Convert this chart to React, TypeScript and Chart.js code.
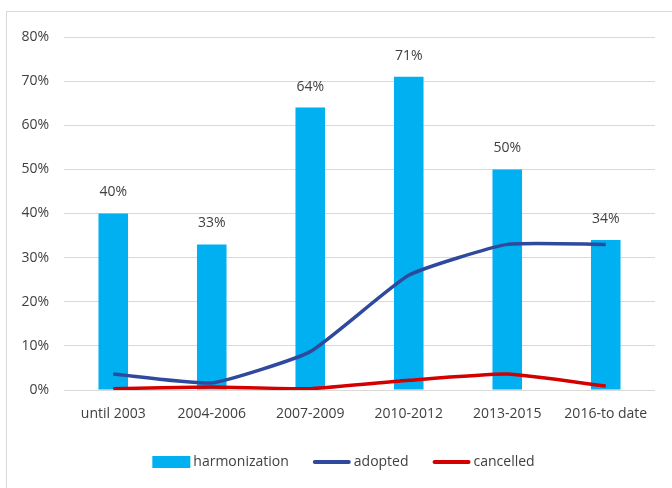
import React, { useEffect, useRef } from "react";
import { Chart, registerables } from "chart.js";

Chart.register(...registerables);

const periods = ["until 2003", "2004-2006", "2007-2009", "2010-2012", "2013-2015", "2016-to date"];
const harmonization = [40, 33, 64, 71, 50, 34];
const adopted = [3.6, 1.6, 8.7, 26, 33, 33];
const cancelled = [0.3, 0.7, 0.3, 2.2, 3.6, 0.9];
const yTicks = [0, 10, 20, 30, 40, 50, 60, 70, 80];

const FONT = "'Open Sans', 'Noto Sans', sans-serif";
const TEXT = "#404040";

// Value labels above each harmonization bar
const barLabels = {
  id: "barLabels",
  afterDatasetsDraw(chart: any) {
    const meta = chart.getDatasetMeta(0);
    const ctx = chart.ctx;
    ctx.save();
    ctx.font = `14px ${FONT}`;
    ctx.fillStyle = TEXT;
    ctx.textAlign = "center";
    ctx.textBaseline = "middle";
    meta.data.forEach((bar: any, i: number) => {
      ctx.fillText(`${harmonization[i]}%`, bar.x, bar.y - 21);
    });
    ctx.restore();
  },
};

// Compact legend row under the axis: marker directly followed by its label
const compactLegend = {
  id: "compactLegend",
  afterDraw(chart: any) {
    const ctx = chart.ctx;
    const markerW = 38;
    const gap = 3;
    const spacing = 24;
    ctx.save();
    ctx.font = `14px ${FONT}`;
    const items = chart.data.datasets.map((ds: any) => ({
      ds,
      w: markerW + gap + ctx.measureText(ds.label).width,
    }));
    const total = items.reduce((s: number, it: any) => s + it.w, 0) + spacing * (items.length - 1);
    const cx = (chart.chartArea.left + chart.chartArea.right) / 2 - 16;
    let x = cx - total / 2;
    const y = chart.chartArea.bottom + 72;
    ctx.textBaseline = "middle";
    ctx.textAlign = "left";
    items.forEach((it: any) => {
      const ds = it.ds;
      if (ds.type === "line") {
        ctx.strokeStyle = ds.borderColor;
        ctx.lineWidth = 4;
        ctx.lineCap = "round";
        ctx.beginPath();
        ctx.moveTo(x + 2, y);
        ctx.lineTo(x + markerW - 2, y);
        ctx.stroke();
      } else {
        ctx.fillStyle = ds.backgroundColor;
        ctx.fillRect(x, y - 6, markerW, 12);
      }
      ctx.fillStyle = TEXT;
      ctx.fillText(ds.label, x + markerW + gap, y);
      x += it.w + spacing;
    });
    ctx.restore();
  },
};

export default function App() {
  const ref = useRef<HTMLCanvasElement>(null);

  useEffect(() => {
    document.body.style.margin = "0";
    const chart = new Chart(ref.current!, {
      type: "bar",
      data: {
        labels: periods,
        datasets: [
          {
            type: "bar",
            label: "harmonization",
            data: harmonization,
            backgroundColor: "#00b0f0",
            categoryPercentage: 1,
            barPercentage: 0.3,
            order: 2,
          },
          {
            type: "line",
            label: "adopted",
            data: adopted,
            borderColor: "#2f4a9c",
            backgroundColor: "#2f4a9c",
            borderWidth: 3.5,
            pointRadius: 0,
            tension: 0.15,
            order: 1,
          },
          {
            type: "line",
            label: "cancelled",
            data: cancelled,
            borderColor: "#d40000",
            backgroundColor: "#d40000",
            borderWidth: 3.5,
            pointRadius: 0,
            tension: 0.15,
            order: 0,
          },
        ] as any,
      },
      options: {
        responsive: false,
        animation: false,
        layout: { padding: { top: 37, right: 17, bottom: 48, left: 0 } },
        plugins: {
          tooltip: { enabled: false },
          legend: { display: false },
        },
        scales: {
          x: {
            afterFit(scale: any) {
              scale.height = 50;
            },
            grid: { display: false },
            border: { display: false },
            ticks: { color: TEXT, font: { family: FONT, size: 14 }, padding: 8 },
          },
          y: {
            min: 0,
            max: 80,
            afterFit(scale: any) {
              scale.width = 64;
            },
            afterBuildTicks(scale: any) {
              scale.ticks = yTicks.map((v) => ({ value: v }));
            },
            grid: { color: "#d9d9d9", drawTicks: false },
            border: { display: false },
            ticks: {
              color: TEXT,
              font: { family: FONT, size: 14 },
              padding: 15,
              callback: (v: any) => `${v}%`,
            },
          },
        },
      },
      plugins: [barLabels, compactLegend],
    });
    return () => chart.destroy();
  }, []);

  return (
    <div style={{ position: "relative", width: 672, height: 488, background: "#fff", overflow: "hidden" }}>
      <div
        style={{
          position: "absolute",
          left: 6,
          top: 11,
          width: 700,
          height: 500,
          borderTop: "1px solid #d9d9d9",
          borderLeft: "1px solid #d9d9d9",
        }}
      />
      <canvas ref={ref} width={672} height={488} style={{ position: "absolute", left: 0, top: 0 }} />
    </div>
  );
}
